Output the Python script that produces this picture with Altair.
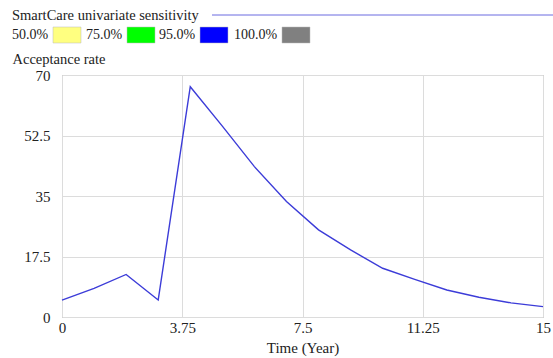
import altair as alt
import pandas as pd

# Acceptance rate over time (SmartCare model run)
time_years = [0, 1, 2, 3, 4, 5, 6, 7, 8, 9, 10, 11, 12, 13, 14, 15]
acceptance = [4.9, 8.3, 12.3, 4.9, 66.6, 55.2, 43.5, 33.4, 25.2, 19.4, 14.1, 10.9, 7.8, 5.7, 4.1, 3.0]

x_ticks = [0, 3.75, 7.5, 11.25, 15]
y_ticks = [0, 17.5, 35, 52.5, 70]

band_labels = ["50.0%", "75.0%", "95.0%", "100.0%"]
band_colors = ["#ffff80", "#00ff00", "#0000ff", "#808080"]

LINE_COLOR = "#3c3cd8"
FONT = "Liberation Serif"

df = pd.DataFrame({"t": time_years, "v": acceptance})
single = alt.Chart(pd.DataFrame({"k": [0]}))  # one row, for header annotations

line = alt.Chart(df).mark_line(color=LINE_COLOR, strokeWidth=1.4).encode(
    x=alt.X(
        "t:Q",
        scale=alt.Scale(domain=[0, 15], nice=False, zero=False),
        axis=alt.Axis(
            values=x_ticks,
            title="Time (Year)",
            titleFont=FONT,
            titleFontSize=15,
            titleFontWeight="normal",
            titleColor="#222",
            titleY=30,
            titleBaseline="middle",
            labelFont=FONT,
            labelFontSize=15,
            labelColor="#222",
            labelPadding=3,
            labelFlush=False,
            labelExpr="datum.value",
            ticks=False,
            domain=False,
            gridColor="#dcdcdc",
        ),
    ),
    y=alt.Y(
        "v:Q",
        scale=alt.Scale(domain=[0, 70], nice=False),
        axis=alt.Axis(
            values=y_ticks,
            title="Acceptance rate",
            titleFont=FONT,
            titleFontSize=14.5,
            titleFontWeight="normal",
            titleColor="#222",
            titleAngle=0,
            titleAlign="left",
            titleBaseline="middle",
            titleX=-50,
            titleY=-16,
            labelFont=FONT,
            labelFontSize=15,
            labelColor="#222",
            labelPadding=12,
            labelExpr="datum.value",
            ticks=False,
            domain=False,
            gridColor="#dcdcdc",
        ),
    ),
)

layers = [line]

# Header: sensitivity title with its line sample
layers.append(
    single.mark_text(font=FONT, fontSize=14.5, align="left", baseline="middle", color="#222").encode(
        x=alt.value(-50), y=alt.value(-59), text=alt.value("SmartCare univariate sensitivity")
    )
)
layers.append(
    single.mark_rule(color="#6a6ae0", strokeWidth=1).encode(
        x=alt.value(150), x2=alt.value(495), y=alt.value(-60)
    )
)

# Confidence band key: label followed by colour swatch
label_x = [-50, 24, 97, 172]
swatch_x = [-9, 65, 138, 220]
for lab, col, lx, sx in zip(band_labels, band_colors, label_x, swatch_x):
    layers.append(
        single.mark_text(font=FONT, fontSize=14, align="left", baseline="middle", color="#222").encode(
            x=alt.value(lx), y=alt.value(-40), text=alt.value(lab)
        )
    )
    layers.append(
        single.mark_rect(color=col, stroke="#bbbbbb", strokeWidth=0.5).encode(
            x=alt.value(sx), x2=alt.value(sx + 28), y=alt.value(-48), y2=alt.value(-32)
        )
    )

chart = (
    alt.layer(*layers)
    .properties(
        width=481,
        height=242,
        autosize=alt.AutoSizeParams(type="none"),
        padding={"left": 62, "top": 75, "right": 10, "bottom": 41},
        background="white",
    )
    .configure_view(stroke="#a0a0a0", strokeWidth=1)
)

chart.save("out.html", embed_options={"renderer": "svg", "actions": False})
